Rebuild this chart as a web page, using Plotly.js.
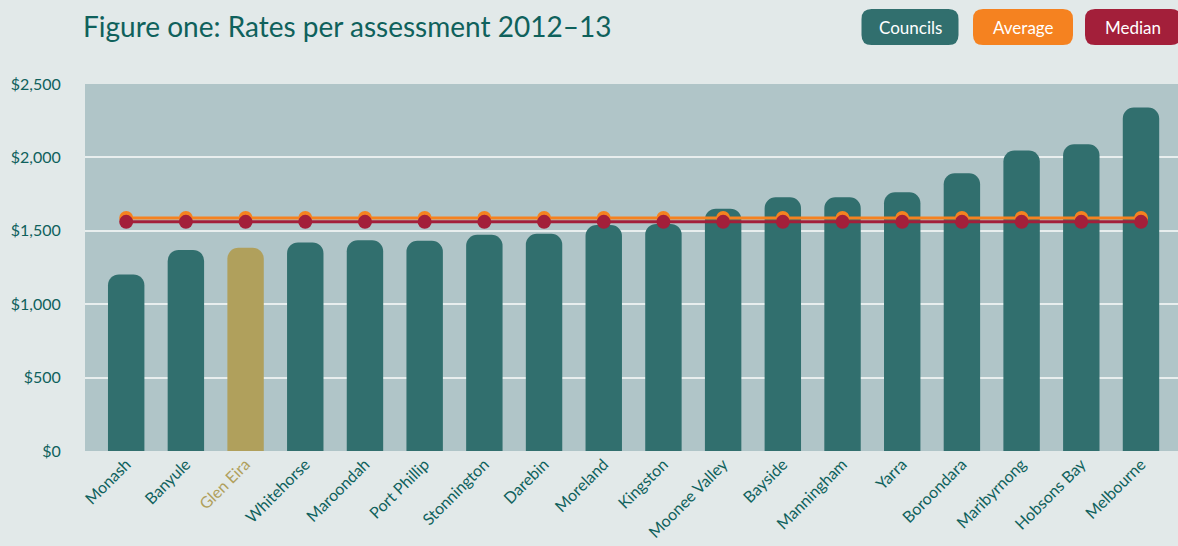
<!DOCTYPE html>
<html>
<head>
<meta charset="utf-8">
<script src="https://cdn.plot.ly/plotly-3.0.1.min.js"></script>
<style>html,body{margin:0;padding:0;background:#e2e9e9;}#chart{width:1178px;height:546px;}</style>
</head>
<body>
<div id="chart"></div>
<script>
var councils = ["Monash","Banyule","Glen Eira","Whitehorse","Maroondah","Port Phillip","Stonnington","Darebin","Moreland","Kingston","Moonee Valley","Bayside","Manningham","Yarra","Boroondara","Maribyrnong","Hobsons Bay","Melbourne"];
var rates = [1203,1370,1385,1421,1435,1432,1473,1480,1540,1547,1651,1728,1728,1762,1892,2047,2090,2340];
var averageRate = 1588;
var medianRate = 1561;
var highlight = "Glen Eira";
var yTicks = [0,500,1000,1500,2000,2500];
var yTickText = ["$0","$500","$1,000","$1,500","$2,000","$2,500"];

var teal = "#316f6e", olive = "#b0a05c", orange = "#f58220", crimson = "#a31f3a", textTeal = "#0f615c";
var FONT = "Lato, 'Open Sans', sans-serif";

var idx = councils.map(function(_, i){ return i; });
var barColors = councils.map(function(c){ return c === highlight ? olive : teal; });
var tickText = councils.map(function(c){ return c === highlight ? '<span style="color:' + olive + '">' + c + '</span>' : c; });

var traces = [
  {type:"bar", x: idx, y: rates, marker:{color: barColors, cornerradius: 11}, width: 0.61, hoverinfo:"skip", showlegend:false},
  {type:"scatter", mode:"lines+markers", x: idx, y: councils.map(function(){return averageRate;}), line:{color: orange, width:3}, marker:{color: orange, size:14}, showlegend:false},
  {type:"scatter", mode:"lines+markers", x: idx, y: councils.map(function(){return medianRate;}), line:{color: crimson, width:3}, marker:{color: crimson, size:14}, showlegend:false}
];

function roundRect(w, h, r){
  var x0=-w/2, x1=w/2, y0=-h/2, y1=h/2;
  return "M"+(x0+r)+","+y0+" L"+(x1-r)+","+y0+" Q"+x1+","+y0+" "+x1+","+(y0+r)+" L"+x1+","+(y1-r)+" Q"+x1+","+y1+" "+(x1-r)+","+y1+" L"+(x0+r)+","+y1+" Q"+x0+","+y1+" "+x0+","+(y1-r)+" L"+x0+","+(y0+r)+" Q"+x0+","+y0+" "+(x0+r)+","+y0+" Z";
}
var legendItems = [
  {label:"Councils", color: teal, cx: 910, w: 97},
  {label:"Average", color: orange, cx: 1023, w: 100},
  {label:"Median", color: crimson, cx: 1133, w: 96}
];
var shapes = [], annotations = [];
legendItems.forEach(function(it){
  shapes.push({type:"path", xref:"paper", yref:"paper", xsizemode:"pixel", ysizemode:"pixel",
    xanchor:(it.cx-85)/1093, yanchor: 1 + (84-27)/367, path: roundRect(it.w, 36, 10),
    fillcolor: it.color, line:{width:0}, layer:"above"});
  annotations.push({xref:"paper", yref:"paper", x:(it.cx-85)/1093, y: 1 + (84-27)/367, text: it.label, showarrow:false,
    font:{family:FONT, size:17, color:"#ffffff"}, xanchor:"center", yanchor:"middle"});
});

var layout = {
  width:1178, height:546,
  margin:{l:85, r:0, t:84, b:95},
  paper_bgcolor:"#e2e9e9", plot_bgcolor:"#b0c5c8",
  title:{text:"Figure one: Rates per assessment 2012–13", font:{family:FONT, size:28, color:textTeal},
    xref:"container", x:83/1178, xanchor:"left", yref:"container", y:1-27/546, yanchor:"middle"},
  xaxis:{range:[-0.69,17.62], tickmode:"array", tickvals: idx, ticktext: tickText, tickangle:-45,
    tickfont:{family:FONT, size:16, color:textTeal}, showgrid:false, zeroline:false, showline:false, ticks:"", fixedrange:true},
  yaxis:{range:[0,2500], tickmode:"array", tickvals: yTicks, ticktext: yTickText,
    tickfont:{family:FONT, size:16, color:textTeal}, gridcolor:"#e8eeee", gridwidth:2, zeroline:false, showline:false,
    ticks:"outside", ticklen:20, tickcolor:"rgba(0,0,0,0)", fixedrange:true},
  shapes: shapes, annotations: annotations, showlegend:false, hovermode:false
};
Plotly.newPlot("chart", traces, layout, {displayModeBar:false, staticPlot:true});
</script>
</body>
</html>
